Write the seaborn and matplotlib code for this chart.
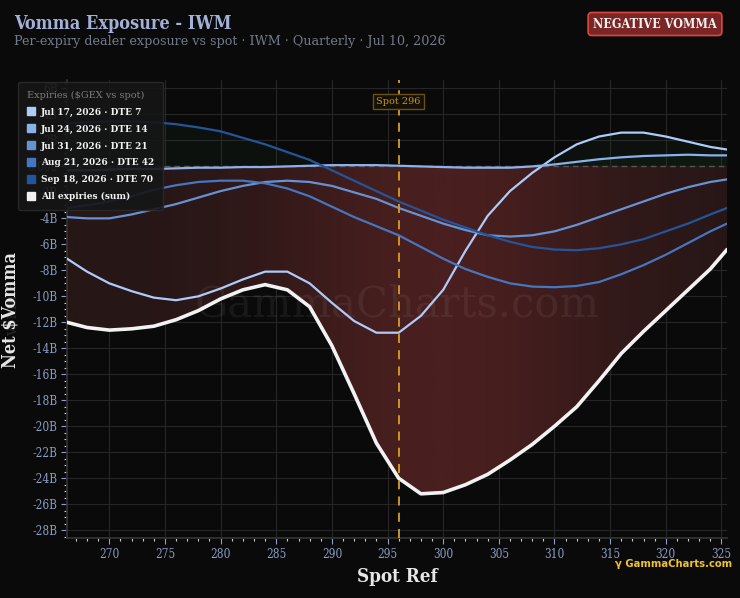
import matplotlib
matplotlib.use("Agg")
import matplotlib.pyplot as plt
import numpy as np
import pandas as pd
import seaborn as sns
from matplotlib.colors import LinearSegmentedColormap
from matplotlib.lines import Line2D
from matplotlib.ticker import FuncFormatter, MultipleLocator

SPOT = [266.2, 268, 270, 272, 274, 276, 278, 280, 282, 284, 286, 288, 290, 292, 294, 296,
        298, 300, 302, 304, 306, 308, 310, 312, 314, 316, 318, 320, 322, 324, 325.5]

JUL17 = [-7.1, -8.1, -9.0, -9.6, -10.1, -10.3, -10.0, -9.4, -8.7, -8.1, -8.1, -9.0, -10.5, -11.9,
         -12.8, -12.8, -11.5, -9.5, -6.5, -3.8, -1.9, -0.5, 0.7, 1.7, 2.3, 2.6, 2.6, 2.3, 1.9, 1.5, 1.3]
JUL24 = [-0.3, -0.3, -0.25, -0.2, -0.2, -0.15, -0.1, -0.1, -0.05, -0.05, 0.0, 0.05, 0.1, 0.1,
         0.1, 0.05, 0.0, -0.05, -0.1, -0.1, -0.1, 0.0, 0.15, 0.35, 0.55, 0.7, 0.8, 0.85, 0.9, 0.85, 0.85]
JUL31 = [-3.9, -4.0, -4.0, -3.7, -3.3, -2.9, -2.4, -1.9, -1.5, -1.2, -1.1, -1.2, -1.5, -2.0,
         -2.5, -3.2, -3.8, -4.4, -4.9, -5.3, -5.4, -5.3, -5.0, -4.5, -3.9, -3.3, -2.7, -2.1, -1.6, -1.2, -1.0]
AUG21 = [-3.2, -3.0, -2.7, -2.3, -1.8, -1.45, -1.2, -1.1, -1.1, -1.3, -1.7, -2.3, -3.1, -3.9,
         -4.6, -5.3, -6.2, -7.1, -7.9, -8.5, -9.0, -9.25, -9.3, -9.2, -8.9, -8.3, -7.6, -6.8, -5.9, -5.0, -4.4]
SEP18 = [3.3, 3.4, 3.45, 3.45, 3.4, 3.25, 3.0, 2.7, 2.2, 1.7, 1.1, 0.5, -0.3, -1.1,
         -1.9, -2.7, -3.4, -4.1, -4.7, -5.3, -5.8, -6.2, -6.4, -6.45, -6.3, -6.0, -5.6, -5.0, -4.4, -3.7, -3.2]
TOTAL = [-12.0, -12.4, -12.6, -12.5, -12.3, -11.8, -11.1, -10.2, -9.5, -9.1, -9.5, -10.8, -13.8, -17.5,
         -21.3, -24.0, -25.2, -25.1, -24.5, -23.7, -22.6, -21.4, -20.0, -18.5, -16.5, -14.4, -12.7,
         -11.1, -9.5, -7.9, -6.4]

EXPIRY_LABELS = ["Jul 17, 2026 · DTE 7", "Jul 24, 2026 · DTE 14", "Jul 31, 2026 · DTE 21",
                 "Aug 21, 2026 · DTE 42", "Sep 18, 2026 · DTE 70"]
EXPIRY_COLORS = ["#aecbfa", "#8ab1ea", "#6692d4", "#4676c0", "#24549a"]
SPOT_PRICE = 296

BG = "#0a0a0a"

sns.set_theme(style="dark")
plt.rcParams["font.family"] = ["DejaVu Serif", "DejaVu Sans"]
plt.rcParams["font.stretch"] = "condensed"

rows = []
for label, values in zip(EXPIRY_LABELS, [JUL17, JUL24, JUL31, AUG21, SEP18]):
    for s, v in zip(SPOT, values):
        rows.append({"spot": s, "vomma": v, "expiry": label})
df = pd.DataFrame(rows)
total_df = pd.DataFrame({"spot": SPOT, "vomma": TOTAL})

fig = plt.figure(figsize=(7.4, 5.98), dpi=100, facecolor=BG)
ax = fig.add_axes([67 / 740, 1 - 538 / 598, 660 / 740, 458 / 598])
ax.set_facecolor(BG)

x = np.array(SPOT)
tot = np.array(TOTAL)
xlim = (SPOT[0], SPOT[-1])
ylim = (-28.6, 6.65)

# faint green where an expiry is positive
for values in [JUL17, JUL24, JUL31, AUG21, SEP18]:
    v = np.array(values)
    ax.fill_between(x, v, 0, where=v > 0, interpolate=True, color="#1f4a2a", alpha=0.12,
                    linewidth=0, zorder=1)

# red gradient under the total
poly = ax.fill_between(x, tot, 0, where=tot < 0, interpolate=True, color="none", linewidth=0)
xs = np.linspace(xlim[0], xlim[1], 300)
grad = np.exp(-((xs - 300) / 16.0) ** 2)[None, :]
cmap = LinearSegmentedColormap.from_list("redfill", ["#261616", "#4a1f1f"])
im = ax.imshow(grad, extent=[xlim[0], xlim[1], ylim[0], 0], aspect="auto", cmap=cmap,
               origin="lower", zorder=1, interpolation="bilinear")
im.set_clip_path(poly.get_paths()[0], transform=ax.transData)

ax.axhline(0, color="#555555", linestyle=(0, (4, 3)), linewidth=1.0, zorder=2)

sns.lineplot(data=df, x="spot", y="vomma", hue="expiry", hue_order=EXPIRY_LABELS,
             palette=EXPIRY_COLORS, linewidth=1.6, legend=False, ax=ax, zorder=3)
sns.lineplot(data=total_df, x="spot", y="vomma", color="#f2f2f2", linewidth=2.6,
             legend=False, ax=ax, zorder=4)

ax.axvline(SPOT_PRICE, color="#d9a020", linestyle=(0, (5, 4)), linewidth=1.3, zorder=5)
ax.text(SPOT_PRICE, 5.0, f"Spot {SPOT_PRICE}", color="#c8961e", fontsize=7, ha="center",
        va="center", zorder=6, fontstretch="normal",
        bbox=dict(boxstyle="square,pad=0.35", facecolor="#151005", edgecolor="#6a5014", linewidth=1))

ax.text(0.5, 0.51, "GammaCharts.com", transform=ax.transAxes, fontsize=30, color="white",
        alpha=0.06, ha="center", va="center", zorder=2, fontstretch="normal")

ax.set_xlim(*xlim)
ax.set_ylim(*ylim)
ax.xaxis.set_major_locator(MultipleLocator(5))
ax.xaxis.set_minor_locator(MultipleLocator(1))
ax.yaxis.set_major_locator(MultipleLocator(2))
ax.yaxis.set_minor_locator(MultipleLocator(0.5))
ax.yaxis.set_major_formatter(FuncFormatter(lambda v, _: "0.000" if abs(v) < 1e-9 else f"{v:.0f}B"))
ax.tick_params(axis="both", which="major", colors="#8d9cc4", labelsize=8.5, length=4,
               width=0.8, direction="out", pad=3)
ax.tick_params(axis="both", which="minor", colors="#cccccc", length=2, width=0.8, direction="out")
ax.tick_params(axis="x", which="both", bottom=True)
ax.tick_params(axis="y", which="both", left=True)
ax.grid(True, which="major", color="#262626", linewidth=0.8)
ax.set_axisbelow(True)
for side, spine in ax.spines.items():
    spine.set_visible(side in ("left", "bottom"))
    spine.set_color("#333333")

ax.set_xlabel("Spot Ref", fontsize=13.5, fontweight="bold", color="#e6e6e6", labelpad=5)
fig.text(11 / 740, 1 - 310 / 598, r"Net \$Vomma", fontsize=13, fontweight="bold",
         color="#e6e6e6", rotation=90, ha="center", va="center")

handles = [Line2D([], [], marker="s", linestyle="none", markersize=6, markerfacecolor=c,
                  markeredgecolor=c) for c in EXPIRY_COLORS]
handles.append(Line2D([], [], marker="s", linestyle="none", markersize=6,
                      markerfacecolor="#f2f2f2", markeredgecolor="#f2f2f2"))
labels = EXPIRY_LABELS + ["All expiries (sum)"]
leg = fig.legend(handles, labels, loc="upper left", bbox_to_anchor=(18 / 740, 1 - 82 / 598),
                 borderaxespad=0, title=r"Expiries (\$GEX vs spot)", fontsize=7.2,
                 title_fontsize=7, frameon=True, facecolor="#161616", edgecolor="#2a2a2a",
                 framealpha=0.9, handletextpad=0.6, labelspacing=0.78, borderpad=0.9,
                 handlelength=0.8)
leg.set_zorder(10)
leg.get_title().set_color("#7c7c7c")
leg.get_title().set_fontstretch("normal")
leg._legend_box.align = "left"
for t in leg.get_texts():
    t.set_color("#f2f2f2")
    t.set_fontweight("bold")

fig.text(14 / 740, 1 - 24 / 598, "Vomma Exposure - IWM", fontsize=13, fontweight="bold",
         color="#a3b1d6", ha="left", va="center")
fig.text(14 / 740, 1 - 41 / 598, "Per-expiry dealer exposure vs spot · IWM · Quarterly · Jul 10, 2026",
         fontsize=9.2, color="#737a8c", ha="left", va="center", fontstretch="normal")
fig.text(655 / 740, 1 - 24 / 598, "NEGATIVE VOMMA", fontsize=9, fontweight="bold", color="#f2f2f2",
         ha="center", va="center",
         bbox=dict(boxstyle="round,pad=0.4,rounding_size=0.3", facecolor="#7a2626",
                   edgecolor="#d9493f", linewidth=1.2))
fig.text(732 / 740, 1 - 564 / 598, "γ GammaCharts.com", fontsize=8, fontweight="bold",
         color="#f0c22e", ha="right", va="center", family="DejaVu Sans")

fig.savefig("out.png", dpi=100, facecolor=BG)
